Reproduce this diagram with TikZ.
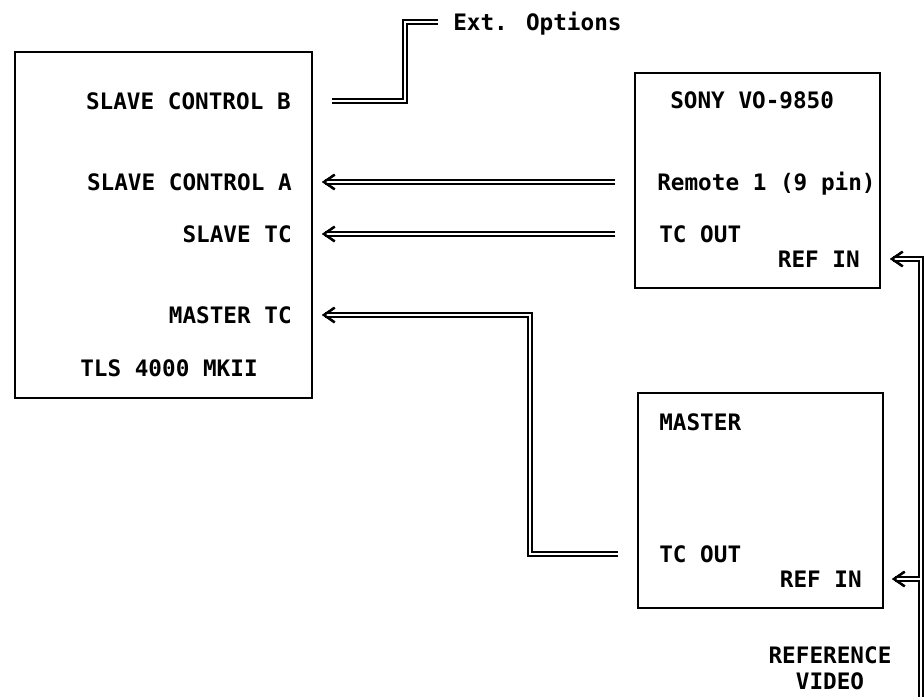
\documentclass[tikz,border=0pt]{standalone}
\usepackage{fontspec}
\setmainfont{DejaVu Sans Mono}
\usetikzlibrary{arrows.meta}

\begin{document}
\begin{tikzpicture}[
  x=0.75pt, y=-0.75pt,
  unit/.style={draw, line width=1.3pt, inner sep=0pt},
  lbl/.style={inner sep=0pt, font=\fontsize{17pt}{20pt}\selectfont\bfseries, text height=12.3pt, text depth=0pt},
  cable/.style={draw, line width=1.3pt, double, double distance=2pt},
  feed/.style={cable, -{Straight Barb[length=8pt, width=11pt, line width=1.7pt]},
    postaction={draw=white, -{Straight Barb[black, length=8pt, width=11pt, line width=1.7pt]}}}
]
\useasboundingbox (0,0) rectangle (924,696);
\node[unit, minimum width=222.75pt, minimum height=259.5pt] (tls) at (163.5,225) {};
\node[unit, minimum width=183.75pt, minimum height=161.25pt] (sony) at (757.5,180.5) {};
\node[unit, minimum width=183.75pt, minimum height=161.25pt] (master) at (760.5,500.5) {};

\node[lbl, anchor=east] (scb) at (291,101) {SLAVE CONTROL B};
\node[lbl, anchor=east] (sca) at (292,182) {SLAVE CONTROL A};
\node[lbl, anchor=east] (stc) at (292,234) {SLAVE TC};
\node[lbl, anchor=east] (mtc) at (292,315) {MASTER TC};
\node[lbl, anchor=west] (tlsname) at (80,368) {TLS 4000 MKII};

\node[lbl, anchor=west] (sonyname) at (670,100) {SONY VO-9850};
\node[lbl, anchor=west] (remote) at (657,182) {Remote 1 (9 pin)};
\node[lbl, anchor=west] (tcout) at (659,234) {TC OUT};
\node[lbl, anchor=east] (refin) at (860,259) {REF IN};

\node[lbl, anchor=west] (mastername) at (659,422) {MASTER};
\node[lbl, anchor=west] (mtcout) at (659,554) {TC OUT};
\node[lbl, anchor=east] (mrefin) at (862,579) {REF IN};

\node[lbl, anchor=west] (ext) at (453,22) {Ext. Options};
\node[inner sep=0pt, align=center, font=\fontsize{17pt}{19.5pt}\selectfont\bfseries] (refvideo) at (830,668)
  {REFERENCE\\VIDEO};

\coordinate (extbend) at (405,60);
\coordinate (mbend) at (530,430);
\coordinate (vbot) at (921,704);
\coordinate (vjoin) at (921,579);

\draw[cable, shorten <=30.75pt, shorten >=11.25pt] (scb.east) -| (extbend) |- (ext.west);
\draw[feed, shorten <=31.5pt, shorten >=22.5pt] (remote.west) -- (sca.east);
\draw[feed, shorten <=33pt, shorten >=22.5pt] (tcout.west) -- (stc.east);
\draw[feed, shorten <=30.75pt, shorten >=22.5pt] (mtcout.west) -| (mbend) |- (mtc.east);
\draw[feed, shorten >=22.5pt] (vbot) |- (refin.east);
\draw[feed, shorten <=1pt, shorten >=22.5pt] (vjoin) -- (mrefin.east);
\end{tikzpicture}
\end{document}
